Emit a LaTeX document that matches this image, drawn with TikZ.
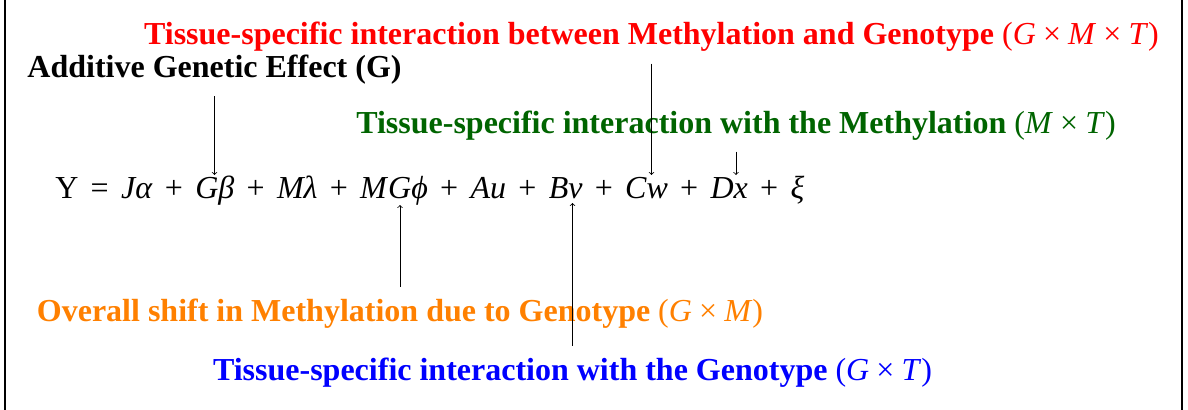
\documentclass[tikz,border=0pt]{standalone}
\usepackage{fontspec}
\setmainfont{Liberation Serif}
\definecolor{tgreen}{RGB}{0,100,0}
\definecolor{torange}{RGB}{255,128,0}
\newcommand{\mv}[1]{\textit{#1}}
\newcommand{\bop}{\hspace{0.2222em}}
\newcommand{\eop}{\hspace{0.385em}}
\newcommand{\mth}[1]{{\mdseries #1}}
\begin{document}
\begin{tikzpicture}[x=0.75pt,y=-0.75pt,
  lbl/.style={font=\fontsize{24}{28}\selectfont\bfseries, inner sep=8.5pt, anchor=base},
  eqn/.style={font=\fontsize{24}{28}\selectfont, inner sep=0pt, anchor=base west},
  arr/.style={->, line width=0.6pt},
  frame/.style={line width=0.8pt}]
\useasboundingbox (0,0) rectangle (1188,410);
\draw[frame] (5,0) -- (5,410);
\draw[frame] (1182,0) -- (1182,410);

\node[lbl, text=red] (red) at (651.5,45) {Tissue-specific interaction between Methylation and Genotype \mth{(\mv{G}\bop×\bop\mv{M}\bop×\bop\mv{T})}};
\node[lbl, text=black] (blk) at (214.5,78) {Additive Genetic Effect (G)};
\node[lbl, text=tgreen] (grn) at (736,133) {Tissue-specific interaction with the Methylation \mth{(\mv{M}\bop×\bop\mv{T})}};
\node[lbl, text=torange] (org) at (400,321) {Overall shift in Methylation due to Genotype \mth{(\mv{G}\bop×\bop\mv{M})}};
\node[lbl, text=blue] (blu) at (572.5,380) {Tissue-specific interaction with the Genotype \mth{(\mv{G}\bop×\bop\mv{T})}};

\node[eqn] (eq) at (55,198) {Y\eop=\eop\mv{Jα}\eop+\eop\mv{Gβ}\eop+\eop\mv{Mλ}\eop+\eop\mv{M\kern1ptGϕ}\eop+\eop\mv{Au}\eop+\eop\mv{Bv}\eop+\eop\mv{Cw}\eop+\eop\mv{Dx}\eop+\eop\mv{ξ}};

\coordinate (tG) at (blk.south |- 0,175);
\coordinate (tC) at (red.south |- 0,175);
\coordinate (tD) at (grn.south |- 0,175);
\coordinate (tMG) at (org.north |- 0,205);
\coordinate (tB) at (blu.north |- 0,203);

\draw[arr] (blk.south) -- (tG);
\draw[arr] (red.south) -- (tC);
\draw[arr] (grn.south) -- (tD);
\draw[arr] (org.north) -- (tMG);
\draw[arr] (blu.north) -- (tB);
\end{tikzpicture}
\end{document}
